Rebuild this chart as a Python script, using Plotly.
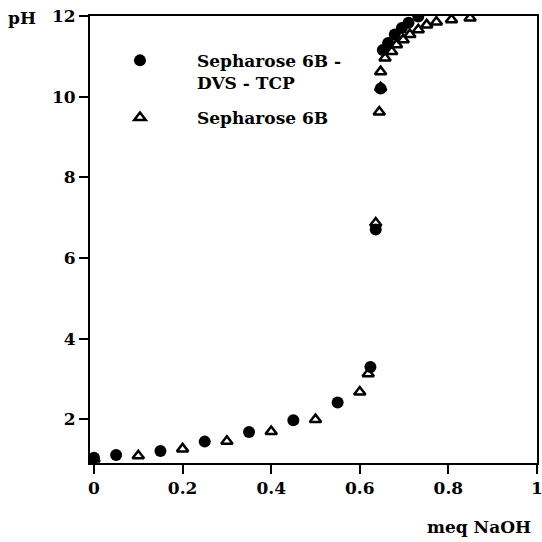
import plotly.graph_objects as go

# Sepharose 6B - DVS - TCP (filled circles)
dvs_x = [0.0, 0.05, 0.15, 0.25, 0.35, 0.45, 0.55, 0.624, 0.636, 0.647, 0.652, 0.664, 0.679, 0.695, 0.71, 0.732]
dvs_ph = [1.05, 1.12, 1.22, 1.45, 1.69, 1.98, 2.42, 3.30, 6.71, 10.2, 11.16, 11.33, 11.54, 11.70, 11.83, 11.99]

# Sepharose 6B (open triangles)
seph_x = [0.0, 0.1, 0.2, 0.3, 0.4, 0.5, 0.6, 0.619, 0.636, 0.644, 0.647, 0.647, 0.657, 0.672, 0.683, 0.698, 0.713, 0.732, 0.751, 0.773, 0.807, 0.849]
seph_ph = [1.02, 1.10, 1.27, 1.46, 1.70, 2.00, 2.68, 3.13, 6.87, 9.62, 10.22, 10.62, 10.96, 11.12, 11.29, 11.41, 11.54, 11.66, 11.78, 11.85, 11.91, 11.95]

x_ticks = [0, 0.2, 0.4, 0.6, 0.8, 1]
x_tick_labels = ["0", "0.2", "0.4", "0.6", "0.8", "1"]
y_ticks = [2, 4, 6, 8, 10, 12]
y_tick_labels = ["2", "4", "6", "8", "10", "12"]

FONT = "DejaVu Serif"
FSIZE = 17

fig = go.Figure()
fig.add_trace(go.Scatter(
    x=dvs_x, y=dvs_ph, mode="markers", name="Sepharose 6B -<br>DVS - TCP",
    legendgroup="a",
    marker=dict(symbol="circle", size=12, color="black", line=dict(width=0)),
))
fig.add_trace(go.Scatter(
    x=seph_x, y=seph_ph, mode="markers", name="Sepharose 6B",
    legendgroup="b",
    marker=dict(symbol="triangle-up-open", size=10, color="black", line=dict(width=2.5, color="black")),
))

axis_common = dict(
    showline=True, linecolor="black", linewidth=2, mirror=True,
    ticks="outside", ticklen=9, tickwidth=2, tickcolor="black",
    showgrid=False, zeroline=False, automargin=False,
    ticklabeloverflow="allow",
    tickfont=dict(family=FONT, size=FSIZE, color="black", weight="bold"),
)
fig.update_xaxes(range=[-0.009, 1.0], tickvals=x_ticks, ticktext=x_tick_labels, **axis_common)
fig.update_yaxes(range=[0.92, 12.0], tickvals=y_ticks, ticktext=y_tick_labels, **axis_common)

fig.add_annotation(text="pH", xref="paper", yref="paper", x=-0.152, y=0.995,
                   xanchor="center", yanchor="middle", showarrow=False,
                   font=dict(family=FONT, size=FSIZE, color="black", weight="bold"))
fig.add_annotation(text="meq NaOH", xref="paper", yref="paper", x=0.99, y=-0.143,
                   xanchor="right", yanchor="middle", showarrow=False,
                   font=dict(family=FONT, size=FSIZE, color="black", weight="bold"))

fig.update_layout(
    width=542, height=542,
    margin=dict(l=90, r=5, t=16, b=79, autoexpand=False),
    paper_bgcolor="white", plot_bgcolor="white",
    showlegend=True,
    legend=dict(x=-0.0157, y=0.94, xanchor="left", yanchor="top",
                bgcolor="rgba(0,0,0,0)", borderwidth=0,
                font=dict(family=FONT, size=FSIZE, color="black", weight="bold"),
                itemwidth=104, valign="top", traceorder="grouped", tracegroupgap=10),
)

fig.write_html("out.html", config={"displayModeBar": False},
               post_script="document.body.style.margin='0';")
